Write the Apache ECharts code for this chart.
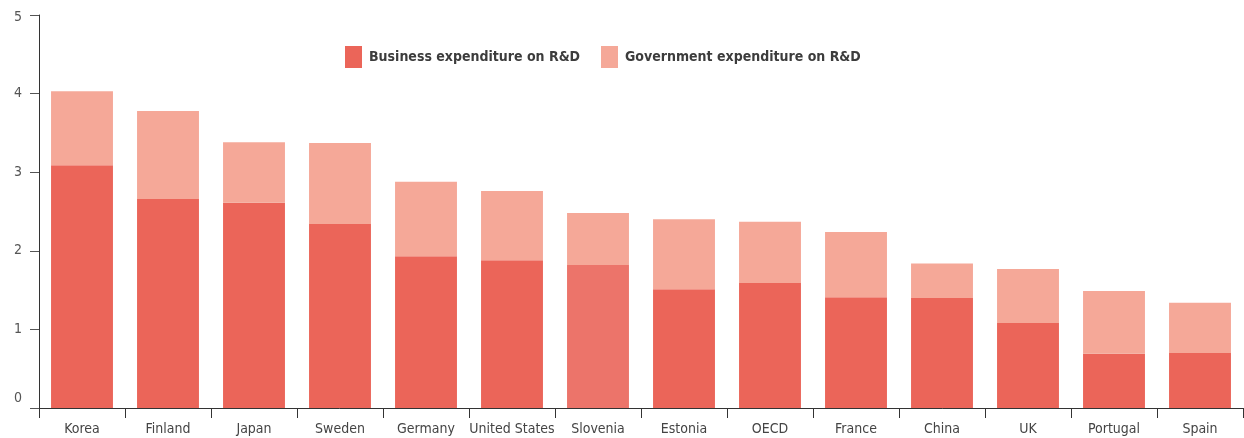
<!DOCTYPE html>
<html><head><meta charset="utf-8">
<script src="https://cdn.jsdelivr.net/npm/echarts@6/dist/echarts.min.js"></script>
<style>html,body{margin:0;padding:0;background:#fff}#c{width:1244px;height:438px}</style>
</head><body><div id="c"></div>
<script>
const categories = ['Korea','Finland','Japan','Sweden','Germany','United States','Slovenia','Estonia','OECD','France','China','UK','Portugal','Spain'];
const business = [3.09,2.66,2.61,2.34,1.93,1.88,1.82,1.51,1.59,1.41,1.40,1.08,0.69,0.70];
const government = [0.94,1.12,0.77,1.03,0.95,0.88,0.66,0.89,0.78,0.83,0.44,0.69,0.80,0.64];
const yTicks = [0,1,2,3,4,5];
const seriesNames = ['Business expenditure on R&D','Government expenditure on R&D'];

const FONT = '"DejaVu Sans Condensed","Liberation Sans Narrow","Roboto",sans-serif';
const BUS = '#EB6559', GOV = '#F5A898', SLO = '#EC746A';
const legendBase = {
  top:41, itemWidth:17, itemHeight:22, icon:'rect',
  textStyle:{fontFamily:FONT,fontSize:14,fontWeight:'bold',color:'#3c3c3c',padding:[0,0,0,2]}
};
const chart = echarts.init(document.getElementById('c'), null, {renderer:'canvas'});
chart.setOption({
  animation:false,
  grid:{left:39,right:1,top:15,bottom:30,containLabel:false},
  legend:[
    Object.assign({left:340,data:[seriesNames[0]]},legendBase),
    Object.assign({left:596,data:[seriesNames[1]]},legendBase)
  ],
  xAxis:{
    type:'category', data:categories,
    axisLine:{lineStyle:{color:'#333',width:1}},
    axisTick:{show:true,length:10,alignWithLabel:false,lineStyle:{color:'#333'}},
    axisLabel:{fontFamily:FONT,fontSize:14,color:'#444',margin:14,interval:0}
  },
  yAxis:{
    type:'value', min:yTicks[0], max:yTicks[yTicks.length-1], interval:1,
    splitLine:{show:false},
    axisLine:{show:true,lineStyle:{color:'#333',width:1}},
    axisTick:{show:true,length:9,lineStyle:{color:'#555'}},
    axisLabel:{fontFamily:FONT,fontSize:14,color:'#555',margin:17,
      formatter:v=> v===0 ? '{z|0}' : (v===5 ? '{f|5}' : String(v)),
      rich:{z:{fontFamily:FONT,fontSize:14,color:'#555',padding:[0,0,20,0]},
            f:{fontFamily:FONT,fontSize:14,color:'#555',padding:[5,0,0,0]}}}
  },
  series:[
    {name:seriesNames[0],type:'bar',stack:'t',barWidth:'72%',
     itemStyle:{color:BUS},
     data:business.map((v,i)=>categories[i]==='Slovenia'?{value:v,itemStyle:{color:SLO}}:v)},
    {name:seriesNames[1],type:'bar',stack:'t',barWidth:'72%',
     itemStyle:{color:GOV},data:government}
  ]
});
</script></body></html>
